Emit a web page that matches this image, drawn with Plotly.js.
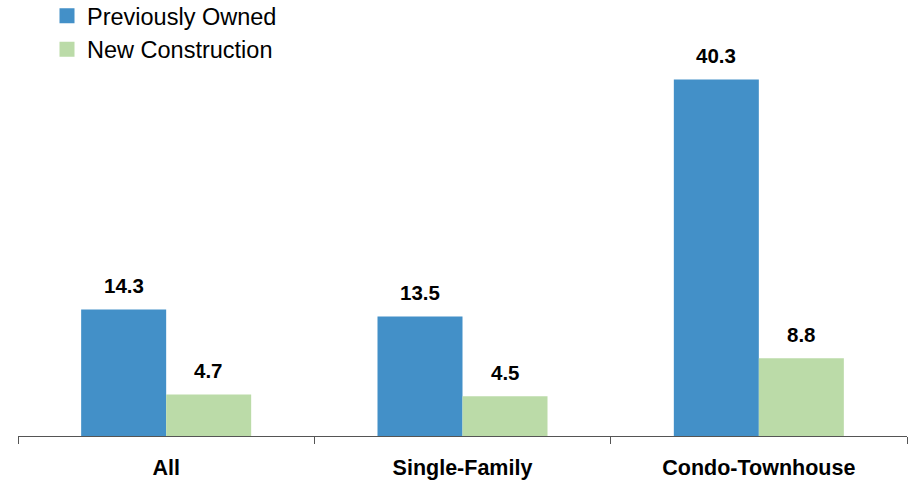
<!DOCTYPE html>
<html>
<head>
<meta charset="utf-8">
<script src="https://cdn.plot.ly/plotly-3.0.1.min.js"></script>
<style>html,body{margin:0;padding:0;background:#fff;}#chart{width:909px;height:483px;}</style>
</head>
<body>
<div id="chart"></div>
<script>
const categories = ["All", "Single-Family", "Condo-Townhouse"];
const previouslyOwned = [14.3, 13.5, 40.3];
const newConstruction = [4.7, 4.5, 8.8];
const seriesNames = ["Previously Owned", "New Construction"];
const colors = ["#4390C8", "#BBDBA8"];

const FONT = "Arial, 'Liberation Sans', sans-serif";

const traces = [
  {type: "bar", name: seriesNames[0], x: categories, y: previouslyOwned, marker: {color: colors[0]}, hoverinfo: "none", showlegend: false},
  {type: "bar", name: seriesNames[1], x: categories, y: newConstruction, marker: {color: colors[1]}, hoverinfo: "none", showlegend: false},
  // legend-only entries (no data drawn) with slightly larger swatches
  {type: "bar", name: seriesNames[0], x: [null], y: [null], xaxis: "x2", yaxis: "y2", marker: {color: colors[0], line: {color: colors[0], width: 3}}, hoverinfo: "none", showlegend: true},
  {type: "bar", name: seriesNames[1], x: [null], y: [null], xaxis: "x2", yaxis: "y2", marker: {color: colors[1], line: {color: colors[1], width: 3}}, hoverinfo: "none", showlegend: true}
];

const annotations = [];
[[previouslyOwned, -42.5], [newConstruction, 42.5]].forEach(([vals, xs]) => {
  vals.forEach((v, i) => {
    annotations.push({
      x: categories[i], y: v, xref: "x", yref: "y",
      text: "<b>" + v.toFixed(1) + "</b>",
      showarrow: false, xshift: xs, yshift: 24, yanchor: "middle",
      font: {family: FONT, size: 20.5, color: "#000"}
    });
  });
});

const layout = {
  width: 909, height: 483,
  margin: {l: 18, r: 2, t: 40, b: 47, autoexpand: false},
  paper_bgcolor: "#fff", plot_bgcolor: "#fff",
  barmode: "group", bargap: 0.4263, bargroupgap: 0,
  font: {family: FONT, color: "#000"},
  showlegend: true,
  legend: {
    xref: "paper", yref: "paper",
    x: (47 - 18) / 889, y: (436 + 6) / 396, xanchor: "left", yanchor: "top",
    font: {family: FONT, size: 23.5, color: "#000"},
    bgcolor: "rgba(0,0,0,0)", tracegroupgap: 0
  },
  xaxis: {
    type: "category", range: [-0.5, 2.5],
    showline: true, linecolor: "#555", linewidth: 1,
    ticks: "outside", tickson: "boundaries", ticklen: 7, tickcolor: "#555",
    showgrid: false, zeroline: false, automargin: false,
    tickfont: {family: FONT, size: 21.5, color: "#000", weight: "bold"},
    ticklabelstandoff: 12, fixedrange: true
  },
  yaxis: {visible: false, range: [0, 44.77], fixedrange: true},
  xaxis2: {visible: false, overlaying: "x", range: [0, 1], fixedrange: true},
  yaxis2: {visible: false, overlaying: "y", range: [0, 1], fixedrange: true},
  annotations: annotations
};

Plotly.newPlot("chart", traces, layout, {displayModeBar: false, staticPlot: true});
</script>
</body>
</html>
